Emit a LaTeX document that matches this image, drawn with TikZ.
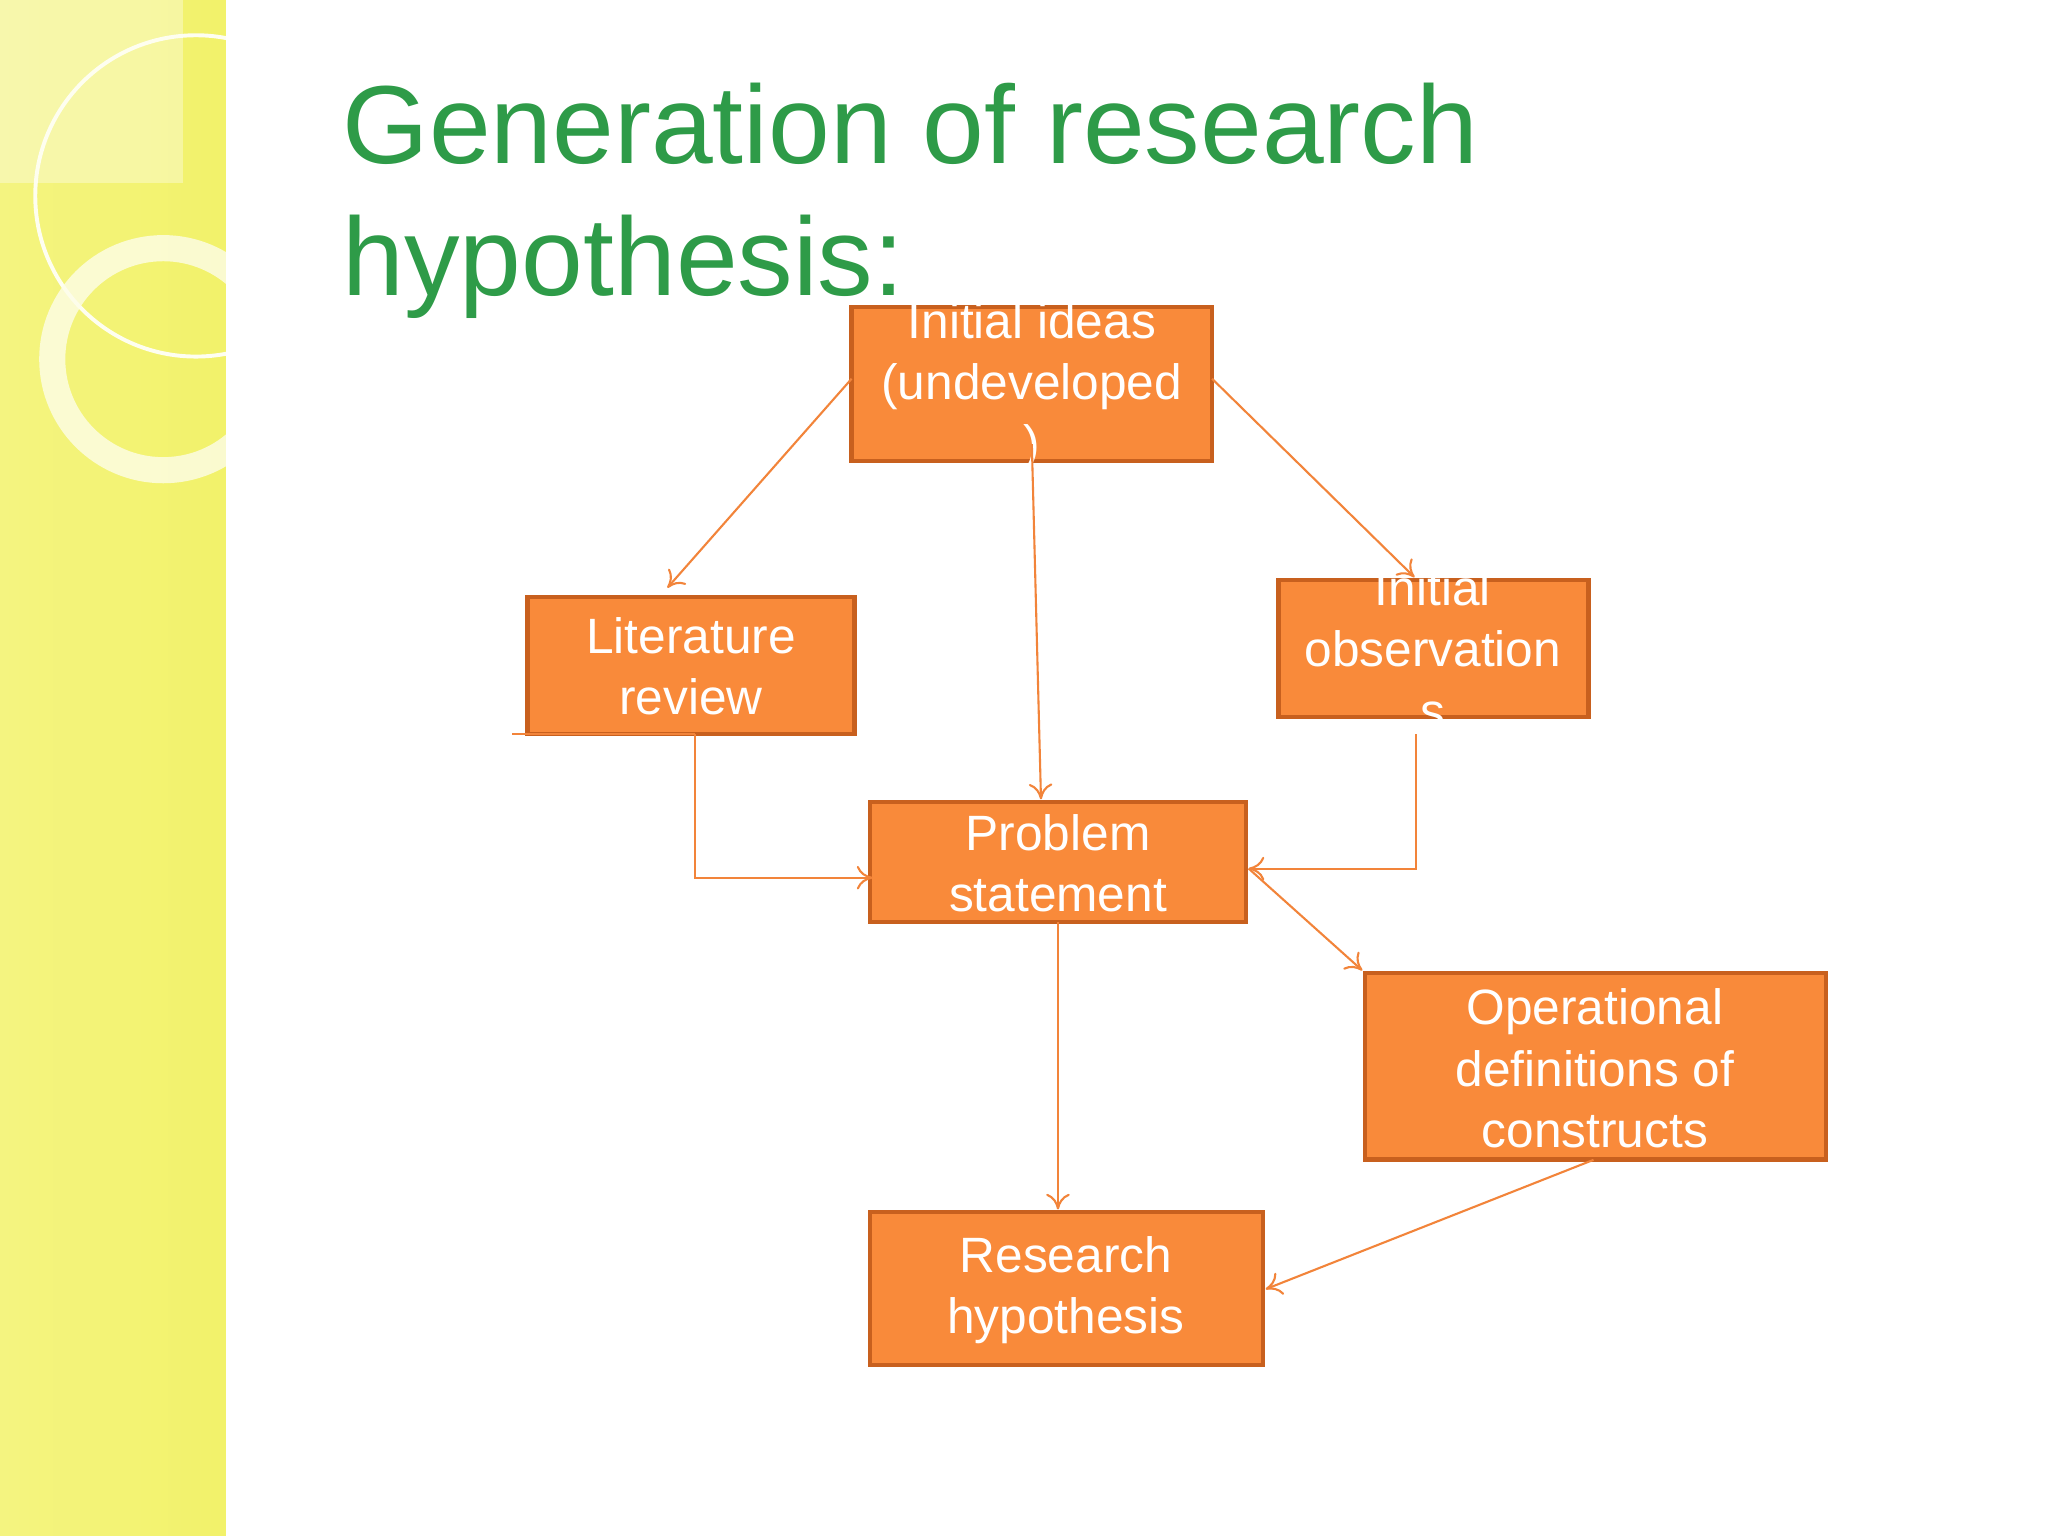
\documentclass[tikz,border=0pt]{standalone}
\usepackage{fontspec}
\setmainfont{Liberation Sans}
\usetikzlibrary{arrows.meta}
\definecolor{boxfill}{HTML}{F98A3A}
\definecolor{boxdraw}{HTML}{C8601E}
\definecolor{lineor}{HTML}{F2843A}
\definecolor{ttl}{HTML}{2E9B48}
\definecolor{strip}{HTML}{F2F26A}
\tikzset{
 box/.style={draw=boxdraw,line width=1.8pt,fill=boxfill,inner sep=0pt},
 lbl/.style={text=white,font=\fontsize{19}{23.5}\selectfont,align=center},
 conn/.style={draw=lineor,line width=0.8pt,-{To[length=6pt,width=9pt]}},
 ttlstyle/.style={anchor=base west,text=ttl,font=\fontsize{42.5}{46}\selectfont,inner sep=0pt},
}
\begin{document}
\begin{tikzpicture}[x=0.5pt,y=-0.5pt]
\useasboundingbox (0,0) rectangle (1568,1176);
\fill[white] (0,0) rectangle (1568,1176);
\shade[left color=strip!85!white,right color=strip] (0,0) rectangle (173,1176);
\begin{scope}
\clip (0,0) rectangle (173,1176);
\fill[white,opacity=0.35] (0,0) rectangle (140,140);
\draw[white!90!strip,line width=1.5pt] (150,150) circle (123);
\draw[white!85!strip,line width=10pt,opacity=0.8] (125,275) circle (85);
\end{scope}
% title
\node[ttlstyle] (t1) at (262,125) {Generation of research};
\node[ttlstyle] (t2) at (262,226) {hypothesis:};
% boxes
\path[box] (652,235) rectangle (928,353);
\node[lbl] (iit) at (790,296) {Initial ideas\\(undeveloped\\)};
\path[box] (404,457) rectangle (654,562);
\node[lbl] (lr) at (529,510) {Literature\\review};
\path[box] (979,444) rectangle (1216,549);
\node[lbl] (io) at (1097,497) {Initial\\observation\\s};
\path[box] (666,614) rectangle (954,706);
\node[lbl] (ps) at (810,661) {Problem\\statement};
\path[box] (1045,745) rectangle (1398,888);
\node[lbl] (od) at (1221,818) {Operational\\definitions of\\constructs};
\path[box] (666,928) rectangle (967,1045);
\node[lbl] (rh) at (816,988) {Research\\hypothesis};
% connectors
\coordinate (a1) at (652,290); \coordinate (a2) at (511,450);
\coordinate (b1) at (790,340); \coordinate (b2) at (797,612);
\coordinate (c1) at (928,290); \coordinate (c2) at (1083,442);
\coordinate (d0) at (392,562); \coordinate (d1) at (532,562); \coordinate (d2) at (668,672);
\coordinate (e1) at (1084,562); \coordinate (e2) at (956,665);
\coordinate (f2) at (1043,743);
\coordinate (g1) at (810,706); \coordinate (g2) at (810,926);
\coordinate (h1) at (1220,888); \coordinate (h2) at (969,987);
\draw[conn] (a1) -- (a2);
\draw[conn] (b1) -- (b2);
\draw[conn] (c1) -- (c2);
\draw[draw=lineor,line width=0.8pt] (d0) -- (d1);
\draw[conn] (d1) |- (d2);
\draw[conn] (e1) |- (e2);
\draw[conn] (e2) -- (f2);
\draw[conn] (g1) -- (g2);
\draw[conn] (h1) -- (h2);
\end{tikzpicture}
\end{document}
